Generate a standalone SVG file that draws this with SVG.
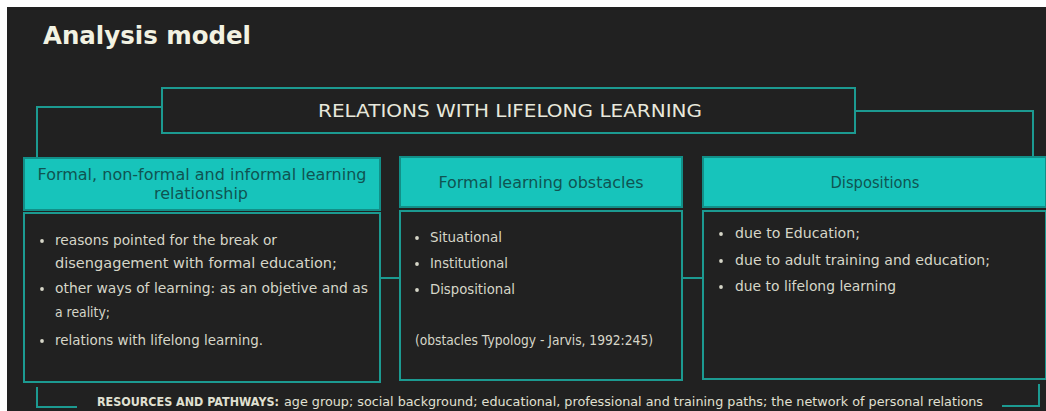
<svg xmlns="http://www.w3.org/2000/svg" width="1046" height="411" viewBox="0 0 1046 411">
<style>
.bg{fill:#212121}
.ln{fill:none;stroke:#1c9a91;stroke-width:2}
.hd{fill:#17c4bb;stroke:#128f88;stroke-width:2}
.bd{fill:#212121;stroke:#1c9a91;stroke-width:2}
.ht{font-family:"DejaVu Sans",sans-serif;font-size:15px;fill:#0f5452;text-anchor:middle}
.bt{font-family:"DejaVu Sans",sans-serif;font-size:13.5px;fill:#d6d6c8}
.dot{fill:#d6d6c8}
.title{font-family:"DejaVu Sans",sans-serif;font-weight:bold;font-size:24px;fill:#f2f2e2}
.top{font-family:"DejaVu Sans",sans-serif;font-size:17.5px;fill:#e8e8dc;text-anchor:middle}
.foot{font-family:"DejaVu Sans",sans-serif;font-size:12.5px;fill:#e0e0d2}
</style>
<rect x="0" y="0" width="1046" height="411" fill="#ffffff"/>
<rect class="bg" x="7" y="7" width="1039" height="404"/>
<text class="title" x="43" y="44" textLength="208" lengthAdjust="spacingAndGlyphs">Analysis model</text>

<g id="connectors">
<polyline class="ln" points="162,107 37,107 37,158"/>
<polyline class="ln" points="855,111 1033,111 1033,157"/>
<line class="ln" x1="380" y1="278" x2="400" y2="278"/>
<line class="ln" x1="682" y1="278" x2="703" y2="278"/>
<polyline class="ln" points="37,387 37,407 77,407"/>
<polyline class="ln" points="1002,406 1039,406 1039,384"/>
</g>

<g id="top">
<rect class="bd" x="162" y="88" width="693" height="45"/>
<text class="top" x="510" y="117" textLength="384" lengthAdjust="spacingAndGlyphs">RELATIONS WITH LIFELONG LEARNING</text>
</g>

<g id="col1">
<rect class="hd" x="24" y="158" width="356" height="52"/>
<text class="ht" x="202" y="180" textLength="329" lengthAdjust="spacingAndGlyphs">Formal, non-formal and informal learning</text>
<text class="ht" x="201" y="199" textLength="94" lengthAdjust="spacingAndGlyphs">relationship</text>
<rect class="bd" x="24" y="213" width="356" height="169"/>
<circle class="dot" cx="42" cy="241" r="1.9"/>
<text class="bt" x="55" y="245" textLength="222" lengthAdjust="spacingAndGlyphs">reasons pointed for the break or</text>
<text class="bt" x="55" y="268" textLength="282" lengthAdjust="spacingAndGlyphs">disengagement with formal education;</text>
<circle class="dot" cx="42" cy="289" r="1.9"/>
<text class="bt" x="55" y="293" textLength="313" lengthAdjust="spacingAndGlyphs">other ways of learning: as an objetive and as</text>
<text class="bt" x="55" y="317" textLength="55" lengthAdjust="spacingAndGlyphs">a reality;</text>
<circle class="dot" cx="42" cy="341" r="1.9"/>
<text class="bt" x="55" y="345" textLength="208" lengthAdjust="spacingAndGlyphs">relations with lifelong learning.</text>
</g>

<g id="col2">
<rect class="hd" x="400" y="157" width="282" height="50"/>
<text class="ht" x="541" y="188" textLength="205" lengthAdjust="spacingAndGlyphs">Formal learning obstacles</text>
<rect class="bd" x="400" y="211" width="282" height="169"/>
<circle class="dot" cx="417" cy="238" r="1.9"/>
<text class="bt" x="430" y="242" textLength="72" lengthAdjust="spacingAndGlyphs">Situational</text>
<circle class="dot" cx="417" cy="264" r="1.9"/>
<text class="bt" x="430" y="268" textLength="78" lengthAdjust="spacingAndGlyphs">Institutional</text>
<circle class="dot" cx="417" cy="290" r="1.9"/>
<text class="bt" x="430" y="294" textLength="85" lengthAdjust="spacingAndGlyphs">Dispositional</text>
<text class="bt" x="415" y="345" textLength="238" lengthAdjust="spacingAndGlyphs">(obstacles Typology - Jarvis, 1992:245)</text>
</g>

<g id="col3">
<rect class="hd" x="703" y="157" width="343" height="50"/>
<text class="ht" x="875" y="188" textLength="89" lengthAdjust="spacingAndGlyphs">Dispositions</text>
<rect class="bd" x="703" y="211" width="343" height="168"/>
<circle class="dot" cx="721" cy="234" r="1.9"/>
<text class="bt" x="735" y="238" textLength="125" lengthAdjust="spacingAndGlyphs">due to Education;</text>
<circle class="dot" cx="721" cy="261" r="1.9"/>
<text class="bt" x="735" y="265" textLength="255" lengthAdjust="spacingAndGlyphs">due to adult training and education;</text>
<circle class="dot" cx="721" cy="287" r="1.9"/>
<text class="bt" x="735" y="291" textLength="161" lengthAdjust="spacingAndGlyphs">due to lifelong learning</text>
</g>

<g id="footer">
<text class="foot" x="97" y="406" font-weight="bold" textLength="182" lengthAdjust="spacingAndGlyphs">RESOURCES AND PATHWAYS:</text>
<text class="foot" x="284" y="406" textLength="699" lengthAdjust="spacingAndGlyphs">age group; social background; educational, professional and training paths; the network of personal relations</text>
</g>
</svg>
